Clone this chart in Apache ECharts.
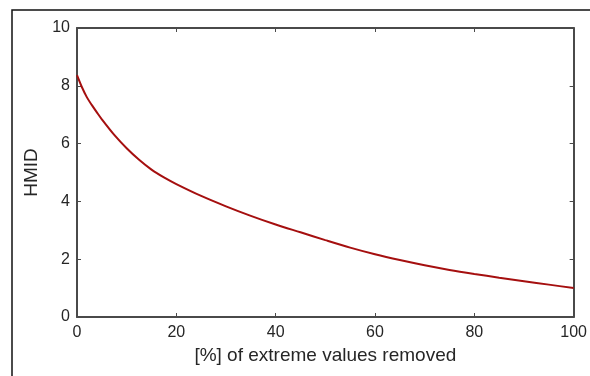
<!DOCTYPE html>
<html>
<head>
<meta charset="utf-8">
<script src="https://cdn.jsdelivr.net/npm/echarts@6/dist/echarts.min.js"></script>
<style>
  html, body { margin: 0; padding: 0; background: #fff; }
  #chart { width: 590px; height: 376px; }
</style>
</head>
<body>
<div id="chart"></div>
<script>
// percent of extreme values removed
const removedPct = [0, 1, 2, 3, 4, 5, 7.5, 10, 12.5, 15, 17.5, 20, 25, 30, 35, 40, 45, 50, 55, 60, 65, 70, 75, 80, 85, 90, 95, 100]
// HMID
const hmid = [8.37, 7.95, 7.6, 7.33, 7.08, 6.84, 6.3, 5.84, 5.44, 5.1, 4.83, 4.6, 4.19, 3.83, 3.5, 3.2, 2.93, 2.66, 2.4, 2.17, 1.97, 1.79, 1.63, 1.49, 1.36, 1.24, 1.12, 1.0]

const xTicks = [0, 20, 40, 60, 80, 100]
const yTicks = [0, 2, 4, 6, 8, 10]

const axisColor = '#4a4a4a'
const textColor = '#262626'
const font = '"Liberation Sans", Arial, sans-serif'

const chart = echarts.init(document.getElementById('chart'), null, { renderer: 'canvas' })

const frameAxis = {
    axisLine: { show: true, onZero: false, lineStyle: { color: axisColor, width: 2 } },
    axisTick: { show: true, inside: true, length: 4, lineStyle: { color: axisColor, width: 1 } },
    splitLine: { show: false },
}

const option = {
    animation: false,
    backgroundColor: '#fff',
    grid: { left: 77, right: 16, top: 28, bottom: 59 },
    graphic: [
        {
            type: 'rect',
            shape: { x: 12, y: 10, width: 700, height: 500 },
            style: { fill: 'none', stroke: '#111', lineWidth: 1.5 },
            silent: true,
        },
    ],
    xAxis: [
        {
            ...frameAxis,
            type: 'value',
            min: xTicks[0],
            max: xTicks[xTicks.length - 1],
            interval: 20,
            position: 'bottom',
            name: '[%] of extreme values removed',
            nameLocation: 'middle',
            nameGap: 28,
            nameTextStyle: { color: textColor, fontSize: 19, fontFamily: font },
            axisLabel: { color: textColor, fontSize: 16, fontFamily: font, margin: 8 },
        },
        {
            ...frameAxis,
            type: 'value',
            min: xTicks[0],
            max: xTicks[xTicks.length - 1],
            interval: 20,
            position: 'top',
            axisLabel: { show: false },
        },
    ],
    yAxis: [
        {
            ...frameAxis,
            type: 'value',
            min: yTicks[0],
            max: yTicks[yTicks.length - 1],
            interval: 2,
            position: 'left',
            name: 'HMID',
            nameLocation: 'middle',
            nameGap: 30,
            nameTextStyle: { color: textColor, fontSize: 19, fontFamily: font },
            axisLabel: { color: textColor, fontSize: 16, fontFamily: font, margin: 7 },
        },
        {
            ...frameAxis,
            type: 'value',
            min: yTicks[0],
            max: yTicks[yTicks.length - 1],
            interval: 2,
            position: 'right',
            axisLabel: { show: false },
        },
    ],
    series: [
        {
            type: 'line',
            data: removedPct.map((x, i) => [x, hmid[i]]),
            smooth: 0.3,
            showSymbol: false,
            lineStyle: { color: '#a50f0f', width: 2 },
            z: 1,
        },
    ],
}

chart.setOption(option)
</script>
</body>
</html>
